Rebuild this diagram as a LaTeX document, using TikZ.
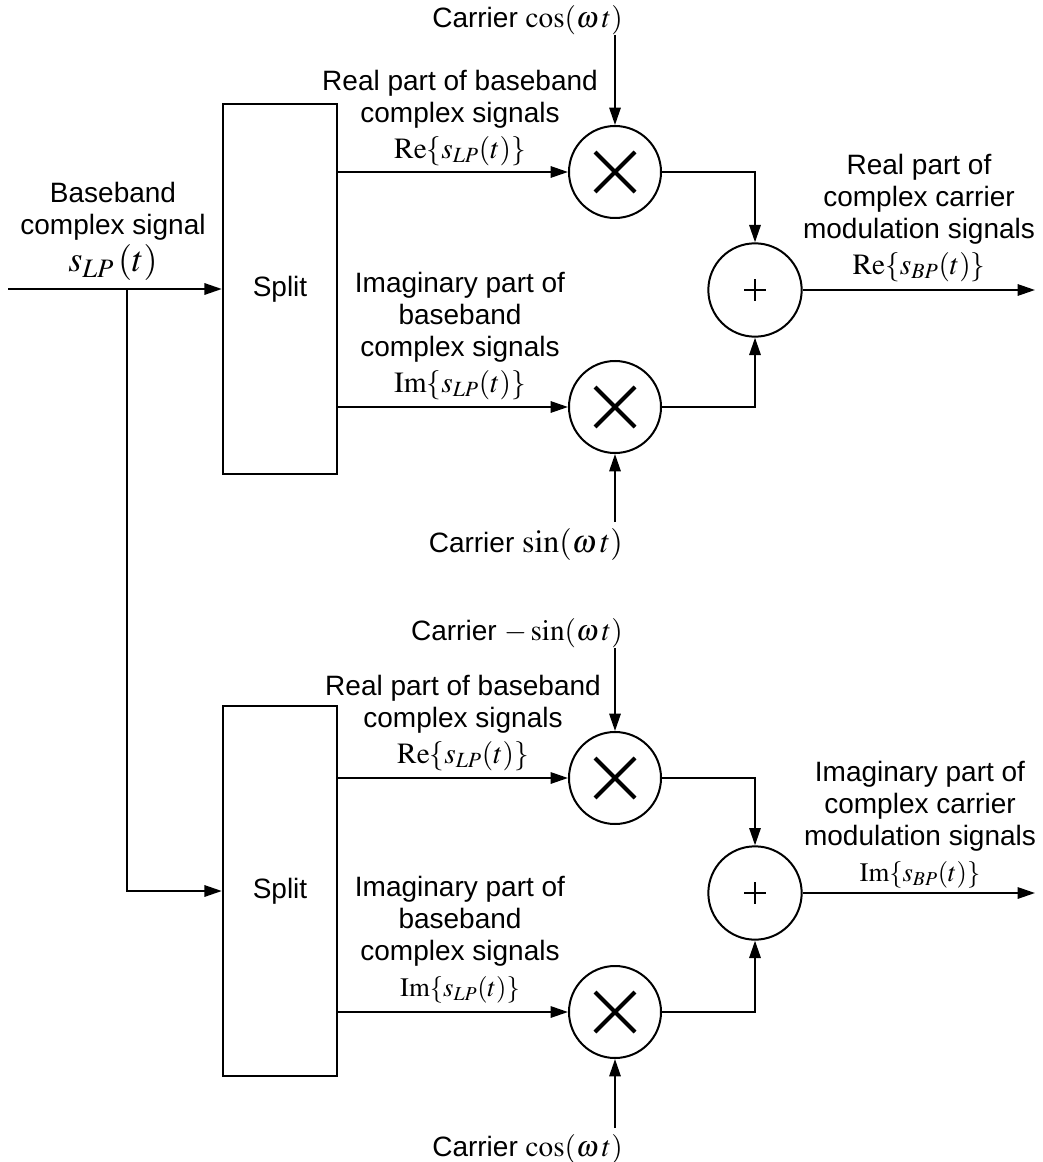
\documentclass[tikz,border=0pt]{standalone}
\usepackage{mathptmx}
\usepackage[no-math]{fontspec}
\setsansfont{Liberation Sans}
\usetikzlibrary{arrows.meta}
\newcommand{\mathlbl}[2][22]{{\fontsize{#1}{#1}\selectfont$#2$}}
\tikzset{
  every node/.style={font=\sffamily\fontsize{21}{24}\selectfont},
  txt/.style={inner sep=0pt, align=center},
  sig/.style={line width=1.5pt, -{Triangle[length=13pt,width=8.5pt]}},
  splitbox/.style={draw, line width=1.8pt, minimum width=85.5pt, minimum height=277.5pt, inner sep=0pt},
  mixer/.style={draw, circle, line width=1.5pt, minimum size=69pt, inner sep=0pt,
    path picture={\draw[line width=3pt] (path picture bounding box.center) +(-15pt,-15pt) -- +(15pt,15pt)
      (path picture bounding box.center) +(-15pt,15pt) -- +(15pt,-15pt);}},
  adder/.style={draw, circle, line width=1.5pt, minimum size=70pt, inner sep=0pt,
    path picture={\draw[line width=1.2pt] (path picture bounding box.center) +(-8pt,0pt) -- +(8pt,0pt)
      (path picture bounding box.center) +(0pt,-8pt) -- +(0pt,8pt);}}
}
\begin{document}
\begin{tikzpicture}[x=0.75pt, y=-0.75pt]
    \useasboundingbox (0,0) rectangle (1042,1162);
    % blocks
    \foreach \y [count=\i] in {289,891}{
        \node[splitbox] (split\i) at (280,\y) {Split};
    }
    \foreach \y [count=\i] in {172,407,778,1012}{
        \node[mixer] (m\i) at (615,\y) {};
    }
    \foreach \y [count=\i] in {290,893}{
        \node[adder] (a\i) at (755,\y) {};
    }

    % input
    \coordinate (in) at (8,289);
    \coordinate (br) at (127,289);
    \node[txt, anchor=south] (lin) at (113,281) {Baseband\\complex signal\\[2pt]\mathlbl[27]{s_{LP}\,(t)}};
    \draw[sig] (in) -- (split1.west);
    \draw[sig] (br) |- (split2.west);

    % upper branch
    \node[txt, anchor=south] (lre1) at (460,166) {Real part of baseband\\complex signals\\[3pt]\mathlbl{\mathrm{Re}\{s_{LP}(t)\}}};
    \node[txt, anchor=south] (lim1) at (460,400) {Imaginary part of\\baseband\\complex signals\\[3pt]\mathlbl{\mathrm{Im}\{s_{LP}(t)\}}};
    \node[txt, anchor=south] (lout1) at (919,282) {Real part of\\complex carrier\\modulation signals\\[3pt]\mathlbl{\mathrm{Re}\{s_{BP}(t)\}}};
    \node[txt, anchor=south east] (lc1) at (623,35) {Carrier \mathlbl{\cos(\omega\mkern2mu t)}};
    \node[txt, anchor=north east] (lc2) at (623,528) {Carrier \mathlbl[24]{\sin(\omega\mkern2mu t)}};
    \coordinate (out1) at (1035,290);
    \draw[sig] (split1.east |- m1) -- (m1.west);
    \draw[sig] (split1.east |- m2) -- (m2.west);
    \draw[sig] (m1.north |- lc1.south) -- (m1.north);
    \draw[sig] (m2.south |- lc2.north) ++(0,-6) -- (m2.south);
    \draw[sig] (m1.east) -| (a1.north);
    \draw[sig] (m2.east) -| (a1.south);
    \draw[sig] (a1.east) -- (out1);

    % lower branch
    \node[txt, anchor=south] (lre2) at (463,771) {Real part of baseband\\complex signals\\[3pt]\mathlbl{\mathrm{Re}\{s_{LP}(t)\}}};
    \node[txt, anchor=south] (lim2) at (460,1003) {Imaginary part of\\baseband\\complex signals\\[3pt]\mathlbl[20]{\mathrm{Im}\{s_{LP}(t)\}}};
    \node[txt, anchor=south] (lout2) at (920,888) {Imaginary part of\\complex carrier\\modulation signals\\[3pt]\mathlbl[20]{\mathrm{Im}\{s_{BP}(t)\}}};
    \node[txt, anchor=south east] (lc3) at (623,648) {Carrier \mathlbl{-\sin(\omega\mkern2mu t)}};
    \node[txt, anchor=north east] (lc4) at (623,1134) {Carrier \mathlbl{\cos(\omega\mkern2mu t)}};
    \coordinate (out2) at (1035,893);
    \draw[sig] (split2.east |- m3) -- (m3.west);
    \draw[sig] (split2.east |- m4) -- (m4.west);
    \draw[sig] (m3.north |- lc3.south) -- (m3.north);
    \draw[sig] (m4.south |- lc4.north) ++(0,-6) -- (m4.south);
    \draw[sig] (m3.east) -| (a2.north);
    \draw[sig] (m4.east) -| (a2.south);
    \draw[sig] (a2.east) -- (out2);
\end{tikzpicture}
\end{document}
